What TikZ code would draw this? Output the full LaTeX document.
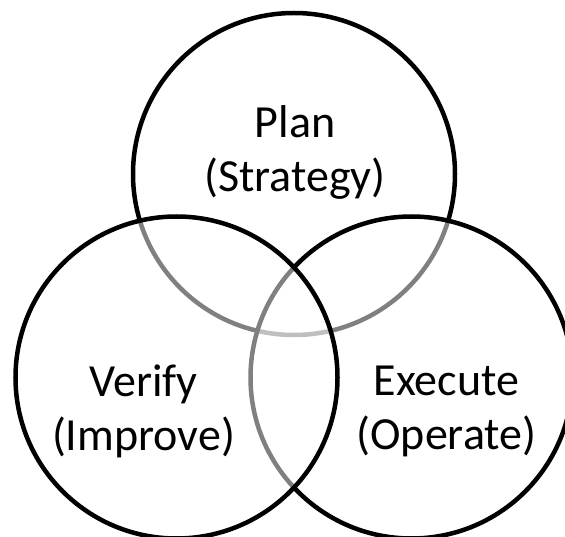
\documentclass[tikz,border=0pt]{standalone}
\usepackage{fontspec}
\setmainfont{Carlito}
\usepackage{tikz}

\begin{document}
\begin{tikzpicture}[
  x=1pt, y=-1pt,
  ring/.style={draw, circle, line width=4.5pt, inner sep=0pt, minimum size=322pt, fill=white, fill opacity=0.5, draw opacity=1},
  lbl/.style={align=center, inner sep=0pt, font=\fontsize{46}{54}\selectfont}
]
\useasboundingbox (0,0) rectangle (565,537);
% later circles grey out the arcs they cover
\node[ring] (plan) at (294,174) {};
\node[ring] (execute) at (411.5,377.5) {};
\node[ring] (verify) at (176.5,377.5) {};

\node[lbl] (plantext) at (295,152) {Plan\\(Strategy)};
\node[lbl] (verifytext) at (143.5,411) {Verify\\(Improve)};
\node[lbl] (executetext) at (446.5,411) {Execute\\(Operate)};
\end{tikzpicture}
\end{document}
